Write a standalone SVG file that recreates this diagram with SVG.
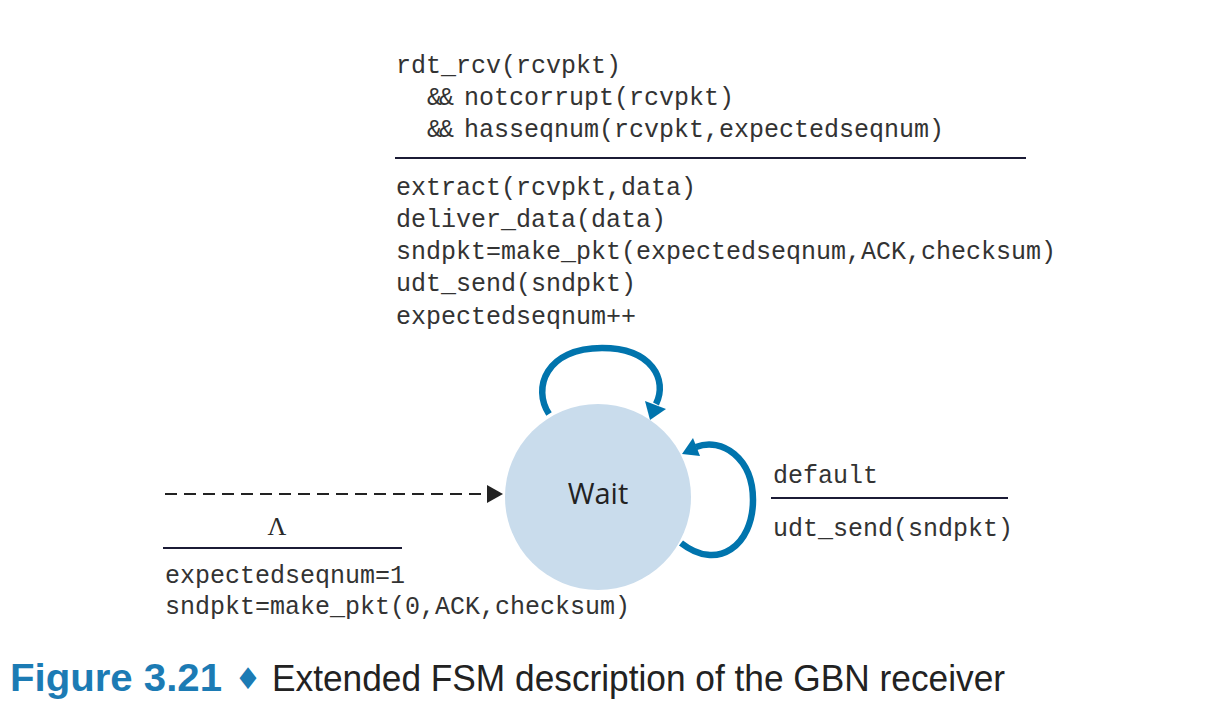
<svg xmlns="http://www.w3.org/2000/svg" width="1212" height="709" viewBox="0 0 1212 709">
<style>
.mono{font-family:"Liberation Mono","Courier New",monospace;font-size:25px;fill:#333333}
.rule{stroke:#1b1b35;stroke-width:2}
.loop{fill:none;stroke:#0074ad;stroke-width:6.5}
.head{fill:#0074ad}
</style>
<rect width="1212" height="709" fill="#ffffff"/>
<g id="top-label">
<text class="mono" x="396" y="73">rdt_rcv(rcvpkt)</text>
<text class="mono" x="427" y="105" letter-spacing="-3">&amp;&amp;</text>
<text class="mono" x="464" y="105">notcorrupt(rcvpkt)</text>
<text class="mono" x="427" y="137" letter-spacing="-3">&amp;&amp;</text>
<text class="mono" x="464" y="137">hasseqnum(rcvpkt,expectedseqnum)</text>
<line class="rule" x1="395" y1="158" x2="1026" y2="158"/>
<text class="mono" x="396" y="195">extract(rcvpkt,data)</text>
<text class="mono" x="396" y="227">deliver_data(data)</text>
<text class="mono" x="396" y="259">sndpkt=make_pkt(expectedseqnum,ACK,checksum)</text>
<text class="mono" x="396" y="291">udt_send(sndpkt)</text>
<text class="mono" x="396" y="324">expectedseqnum++</text>
</g>
<g id="right-label">
<text class="mono" x="773" y="483">default</text>
<line class="rule" x1="771" y1="498" x2="1008" y2="498"/>
<text class="mono" x="773" y="536">udt_send(sndpkt)</text>
</g>
<g id="init-label">
<text x="277" y="535" text-anchor="middle" font-family="Liberation Serif, serif" font-size="26" fill="#2a2a2a">Λ</text>
<line class="rule" x1="163" y1="548" x2="402" y2="548"/>
<text class="mono" x="165" y="583">expectedseqnum=1</text>
<text class="mono" x="165" y="614">sndpkt=make_pkt(0,ACK,checksum)</text>
</g>
<g id="connectors">
<line x1="165" y1="494" x2="488" y2="494" stroke="#222" stroke-width="2" stroke-dasharray="12,7"/>
<polygon points="487,485 503,494 487,503" fill="#222"/>
<path class="loop" d="M 549 414 C 532 388, 546 348, 602 348 C 652 348, 668 380, 656 404"/>
<polygon class="head" points="645,401 666,409 650,420"/>
<path class="loop" d="M 696 447 C 722 437, 753 458, 753 500 C 753 545, 718 572, 681 543"/>
<polygon class="head" points="693,438 700,456 682,454"/>
</g>
<g id="wait">
<circle cx="598" cy="497" r="93" fill="#c9dcec"/>
<text x="598" y="504" text-anchor="middle" font-family="Open Sans, sans-serif" font-size="29" fill="#222">Wait</text>
</g>
<g id="caption">
<text x="10" y="691" font-family="Liberation Sans, sans-serif" font-weight="bold" font-size="38" fill="#1c7bb4" textLength="212" lengthAdjust="spacingAndGlyphs">Figure 3.21</text>
<text x="248" y="689" text-anchor="middle" font-family="DejaVu Sans, sans-serif" font-size="30" fill="#1c7bb4">♦</text>
<text x="272" y="691" font-family="Liberation Sans, sans-serif" font-size="37" fill="#222" textLength="733" lengthAdjust="spacingAndGlyphs">Extended FSM description of the GBN receiver</text>
</g>
</svg>
